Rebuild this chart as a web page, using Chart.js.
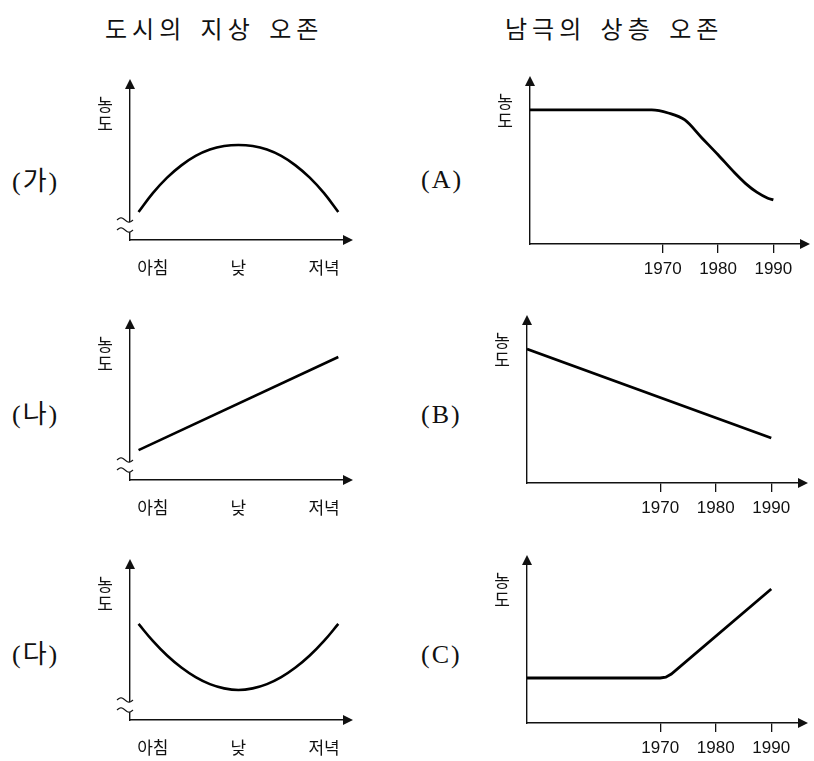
<!DOCTYPE html>
<html>
<head>
<meta charset="utf-8">
<script src="https://cdn.jsdelivr.net/npm/chart.js@4.4.1/dist/chart.umd.min.js"></script>
<style>
  body { margin: 0; background: #fff; }
  #page { position: relative; width: 814px; height: 761px; overflow: hidden; }
  canvas { position: absolute; }
  .title { position: absolute; font-family: "Noto Sans CJK KR"; font-size: 24px; line-height: 30px;
           letter-spacing: 5px; word-spacing: 4px; color: #111; white-space: nowrap; }
  .row { position: absolute; font-family: "Liberation Serif", "Noto Sans CJK KR"; font-size: 26px;
         line-height: 30px; letter-spacing: 2px; color: #111; white-space: nowrap; }
</style>
</head>
<body>
<div id="page">
  <div class="title" style="left:105px; top:13px;">도시의 지상 오존</div>
  <div class="title" style="left:505px; top:13px;">남극의 상층 오존</div>
  <div class="row" style="left:12px; top:167px;">(가)</div>
  <div class="row" style="left:12px; top:400px;">(나)</div>
  <div class="row" style="left:12px; top:640px;">(다)</div>
  <div class="row" style="left:421px; top:165px;">(A)</div>
  <div class="row" style="left:421px; top:400px;">(B)</div>
  <div class="row" style="left:421px; top:640px;">(C)</div>
</div>
<script>
// ---- data ----
const yTitle = '농도';
const timeLabels = ['아침', '낮', '저녁'];
const timeTickHours = [7, 13, 19];
const hours = [6, 7, 8, 9, 10, 11, 12, 13, 14, 15, 16, 17, 18, 19, 20];
// (가) rises to a midday peak
const cityGa = [18.4, 30.8, 41.0, 49.1, 55.3, 59.5, 61.8, 62.5, 61.8, 59.5, 55.3, 49.1, 41.0, 30.8, 18.4];
// (나) rises all day
const cityNaHours = [6, 20];
const cityNa = [19.7, 80.9];
// (다) dips at midday
const cityDa = [63.2, 52.0, 42.4, 34.5, 28.2, 23.6, 20.8, 19.7, 20.8, 23.6, 28.2, 34.5, 42.4, 52.0, 63.2];

const yearTicks = [1970, 1980, 1990];
const yearsA = [1946, 1968, 1971, 1974, 1977, 1980, 1983, 1985, 1987, 1989, 1990];
const polarA = [84.3, 84.3, 82.4, 78.0, 67.0, 56.1, 44.8, 38.0, 32.6, 28.8, 27.7];
const yearsB = [1946, 1990];
const polarB = [84.3, 28.3];
const yearsC = [1946, 1970, 1971, 1972, 1990];
const polarC = [28.3, 28.3, 28.8, 30.8, 84.3];

// ---- drawing ----
const INK = '#111';
const AXIS_H = 46;

function toXY(xs, ys) {
  return xs.map((x, i) => ({ x: x, y: ys[i] }));
}

const axisDeco = {
  id: 'axisDeco',
  afterDraw(chart, args, opts) {
    const ctx = chart.ctx;
    const a = chart.chartArea;
    ctx.save();
    ctx.fillStyle = INK;
    // arrow heads
    ctx.beginPath();
    ctx.moveTo(a.left, a.top - 9);
    ctx.lineTo(a.left - 5, a.top + 1);
    ctx.lineTo(a.left + 5, a.top + 1);
    ctx.closePath();
    ctx.fill();
    ctx.beginPath();
    ctx.moveTo(a.right + 9, a.bottom);
    ctx.lineTo(a.right - 1, a.bottom - 5);
    ctx.lineTo(a.right - 1, a.bottom + 5);
    ctx.closePath();
    ctx.fill();
    // upright stacked axis title
    ctx.font = '17px "Noto Sans CJK KR"';
    ctx.textAlign = 'center';
    ctx.textBaseline = 'middle';
    [...yTitle].forEach((ch, i) => ctx.fillText(ch, a.left - 25, a.top + 17 + i * 19));
    // axis break mark
    if (opts.axisBreak) {
      const wave = (yc) => {
        const pts = [];
        for (let i = 0; i <= 16; i++) {
          const t = i / 16;
          pts.push([a.left - 13 + 16 * t, yc - 2.2 * Math.sin(2 * Math.PI * t)]);
        }
        return pts;
      };
      const up = wave(a.bottom - 20);
      const lo = wave(a.bottom - 10);
      ctx.fillStyle = '#fff';
      ctx.beginPath();
      up.forEach((p, i) => i ? ctx.lineTo(p[0], p[1]) : ctx.moveTo(p[0], p[1]));
      lo.slice().reverse().forEach(p => ctx.lineTo(p[0], p[1]));
      ctx.closePath();
      ctx.fill();
      ctx.strokeStyle = INK;
      ctx.lineWidth = 1.2;
      [up, lo].forEach(w => {
        ctx.beginPath();
        w.forEach((p, i) => i ? ctx.lineTo(p[0], p[1]) : ctx.moveTo(p[0], p[1]));
        ctx.stroke();
      });
    }
    ctx.restore();
  }
};

function makeChart(box, area, xCfg, dataset, axisBreak) {
  const cv = document.createElement('canvas');
  cv.width = box.w;
  cv.height = box.h;
  cv.style.left = box.x + 'px';
  cv.style.top = box.y + 'px';
  document.getElementById('page').appendChild(cv);

  new Chart(cv.getContext('2d'), {
    type: 'line',
    data: { datasets: [Object.assign({
      borderColor: '#000', borderWidth: 2.6, pointRadius: 0, fill: false
    }, dataset)] },
    options: {
      responsive: false,
      animation: false,
      devicePixelRatio: 1,
      events: [],
      layout: { padding: {
        left: area.left - box.x,
        top: area.top - box.y,
        right: box.x + box.w - area.right,
        bottom: box.y + box.h - area.bottom - AXIS_H
      } },
      plugins: { legend: { display: false }, tooltip: { enabled: false }, axisDeco: { axisBreak: axisBreak } },
      scales: {
        x: Object.assign({
          type: 'linear',
          afterFit: s => { s.height = AXIS_H; },
          border: { display: true, color: INK, width: 1.4 }
        }, xCfg),
        y: {
          type: 'linear', min: 0, max: 100,
          afterFit: s => { s.width = 0; },
          grid: { display: false },
          ticks: { display: false },
          border: { display: true, color: INK, width: 1.4 }
        }
      }
    },
    plugins: [axisDeco]
  });
}

const timeAxis = {
  min: 5.4, max: 20.4,
  afterBuildTicks: s => { s.ticks = timeTickHours.map(v => ({ value: v })); },
  grid: { display: false },
  ticks: { autoSkip: false, maxRotation: 0, padding: 9, color: INK,
           font: { family: '"Noto Sans CJK KR"', size: 17 },
           callback: (v, i) => timeLabels[i] }
};

const yearAxis = {
  min: 1946, max: 1995,
  afterBuildTicks: s => { s.ticks = yearTicks.map(v => ({ value: v })); },
  grid: { display: true, drawOnChartArea: false, drawTicks: true, tickLength: 9, color: INK, lineWidth: 1.3 },
  ticks: { autoSkip: false, maxRotation: 0, padding: 6, color: INK,
           font: { family: '"Liberation Sans"', size: 17 },
           callback: v => String(v) }
};

const leftBox = (y) => ({ x: 60, y: y, w: 310, h: 240 });
const rightBox = (y) => ({ x: 470, y: y, w: 344, h: 240 });

makeChart(leftBox(60), { left: 130, top: 88, right: 344, bottom: 240 }, timeAxis,
  { data: toXY(hours, cityGa), tension: 0.4 }, true);
makeChart(leftBox(300), { left: 130, top: 328, right: 344, bottom: 480 }, timeAxis,
  { data: toXY(cityNaHours, cityNa), tension: 0 }, true);
makeChart(leftBox(540), { left: 130, top: 568, right: 344, bottom: 720 }, timeAxis,
  { data: toXY(hours, cityDa), tension: 0.4 }, true);

makeChart(rightBox(60), { left: 530, top: 85, right: 801, bottom: 244 }, yearAxis,
  { data: toXY(yearsA, polarA), cubicInterpolationMode: 'monotone', borderWidth: 2.8 }, false);
makeChart(rightBox(300), { left: 527, top: 324, right: 799, bottom: 483 }, yearAxis,
  { data: toXY(yearsB, polarB), tension: 0, borderWidth: 2.8 }, false);
makeChart(rightBox(540), { left: 527, top: 564, right: 799, bottom: 723 }, yearAxis,
  { data: toXY(yearsC, polarC), tension: 0, borderWidth: 2.8 }, false);
</script>
</body>
</html>
